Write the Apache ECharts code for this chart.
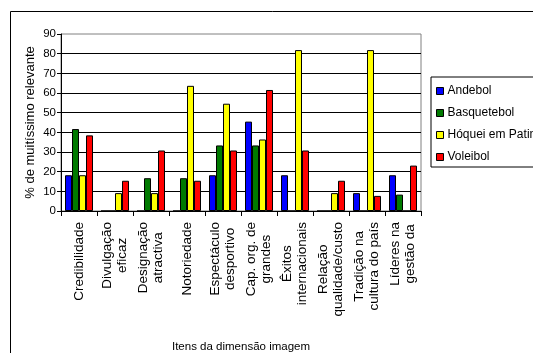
<!DOCTYPE html>
<html>
<head>
<meta charset="utf-8">
<script src="https://cdn.jsdelivr.net/npm/echarts@6/dist/echarts.min.js"></script>
<style>
  html, body { margin: 0; padding: 0; background: #fff; }
  #chart { width: 533px; height: 353px; }
</style>
</head>
<body>
<div id="chart"></div>
<script>
// Itens da dimensão imagem — % de respostas "muitíssimo relevante" por modalidade
const categories = [
  'Credibilidade',
  'Divulgação\neficaz',
  'Designação\natractiva',
  'Notoriedade',
  'Espectáculo\ndesportivo',
  'Cap. org. de\ngrandes',
  'Êxitos\ninternacionais',
  'Relação\nqualidade/custo',
  'Tradição na\ncultura do país',
  'Líderes na\ngestão da'
];

const andebol     = [18.18, 0, 0, 0, 18.18, 45.45, 18.18, 0, 9.09, 18.18];
const basquetebol = [41.67, 0, 16.67, 16.67, 33.33, 33.33, 0, 0, 0, 8.33];
const hoquei      = [18.18, 9.09, 9.09, 63.64, 54.55, 36.36, 81.82, 9.09, 81.82, 0];
const voleibol    = [38.46, 15.38, 30.77, 15.38, 30.77, 61.54, 30.77, 15.38, 7.69, 23.08];

const yTicks = { min: 0, max: 90, interval: 10 };

const seriesDefs = [
  { name: 'Andebol', data: andebol, color: '#0000ff' },
  { name: 'Basquetebol', data: basquetebol, color: '#007a00' },
  { name: 'Hóquei em Patins', data: hoquei, color: '#ffff00' },
  { name: 'Voleibol', data: voleibol, color: '#ff0000' }
];

const FONT = '"Liberation Sans", Arial, sans-serif';

const chart = echarts.init(document.getElementById('chart'), null, { renderer: 'canvas' });

chart.setOption({
  animation: false,
  backgroundColor: '#fff',
  textStyle: { fontFamily: FONT, color: '#000' },
  graphic: [{
    type: 'rect',
    shape: { x: 10.5, y: 11.5, width: 600, height: 400 },
    style: { fill: 'none', stroke: '#000', lineWidth: 1 },
    z: 0
  }],
  grid: {
    left: 61, top: 34, width: 360, height: 177,
    outerBoundsMode: 'none',
    containLabel: false,
    show: true, borderColor: '#808080', borderWidth: 1, backgroundColor: 'transparent'
  },
  legend: {
    orient: 'vertical',
    left: 431, top: 77,
    padding: [7, 40, 3, 5],
    borderColor: '#000', borderWidth: 1,
    backgroundColor: '#fff',
    itemWidth: 7, itemHeight: 7, itemGap: 8,
    icon: 'rect',
    textStyle: { fontFamily: FONT, fontSize: 12, color: '#000', lineHeight: 14, padding: [0, 0, 0, -1] },
    itemStyle: { borderColor: '#000', borderWidth: 1 },
    data: seriesDefs.map(s => s.name)
  },
  xAxis: {
    type: 'category',
    data: categories,
    name: 'Itens da dimensão imagem',
    nameLocation: 'middle',
    nameGap: 130,
    nameMoveOverlap: false,
    nameTextStyle: { fontFamily: FONT, fontSize: 11.5, color: '#000' },
    axisLine: { lineStyle: { color: '#000', width: 1 } },
    axisTick: { show: true, length: 5, lineStyle: { color: '#000' } },
    axisLabel: {
      interval: 0, rotate: 90, margin: 11,
      fontFamily: FONT, fontSize: 13.5, lineHeight: 15, color: '#000',
      // each line of a two-line label is centred on the longer one
      formatter: v => v.split('\n').map(line => '{c|' + line + '}').join('\n'),
      rich: { c: { align: 'center', fontFamily: FONT, fontSize: 13.5, lineHeight: 15, color: '#000' } }
    },
    splitLine: { show: false }
  },
  yAxis: {
    type: 'value',
    min: yTicks.min, max: yTicks.max, interval: yTicks.interval,
    name: '% de muitíssimo relevante',
    nameLocation: 'middle',
    nameGap: 24,
    nameMoveOverlap: false,
    nameTextStyle: { fontFamily: FONT, fontSize: 13, color: '#000' },
    axisLine: { show: true, lineStyle: { color: '#000', width: 1 } },
    axisTick: { show: true, length: 4, lineStyle: { color: '#000' } },
    axisLabel: { margin: 5, fontFamily: FONT, fontSize: 11.5, color: '#000' },
    splitLine: { show: true, showMaxLine: false, lineStyle: { color: '#000', width: 1 } }
  },
  series: seriesDefs.map(s => ({
    name: s.name,
    type: 'bar',
    data: s.data,
    barWidth: 7,
    barGap: '0%',
    itemStyle: { color: s.color, borderColor: '#000', borderWidth: 1 }
  }))
});
</script>
</body>
</html>
